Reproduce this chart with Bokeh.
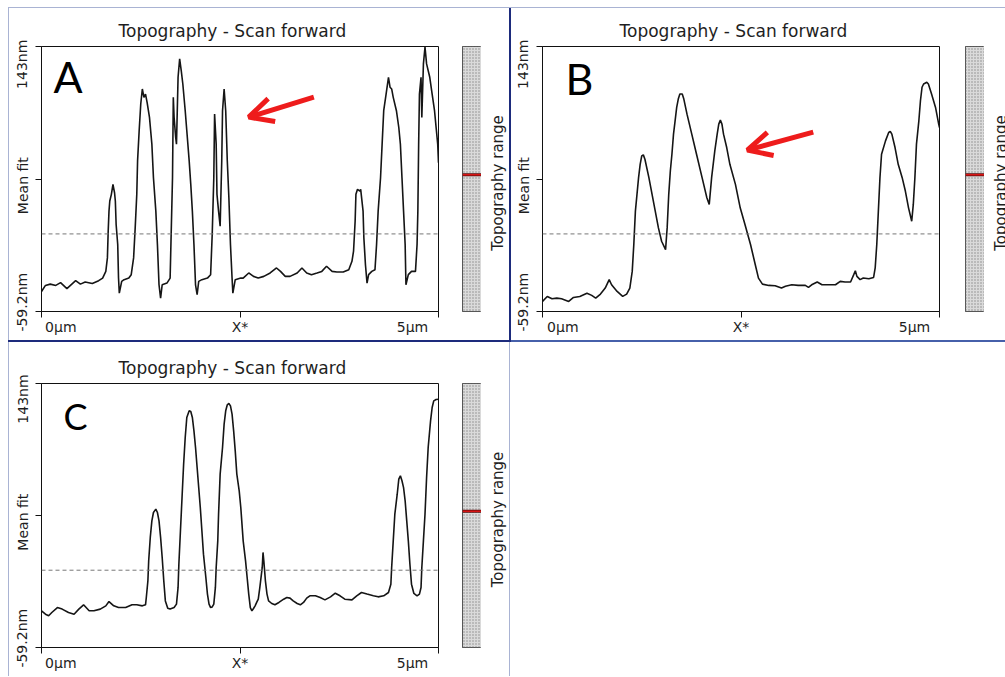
from math import pi
from bokeh.plotting import figure
from bokeh.models import Range1d, LinearAxis, FixedTicker, Label, Span, Arrow, OpenHead, Spacer
from bokeh.layouts import row, column
from bokeh.embed import file_html
from bokeh.resources import INLINE

# ---------------- data ----------------
Y_MIN, Y_MAX = -59.2, 143
X_MIN, X_MAX = 0, 5
Y_TICKS = [-59.2, 41.9, 143]
X_TICKS = [0, 2.5, 5]
X_TICK_LABELS = ["0µm", "X*", "5µm"]
Y_TICK_LABELS = ["-59.2nm", "Mean fit", "143nm"]
TITLE = "Topography - Scan forward"
RANGE_LABEL = "Topography range"
MEAN_MARK = 45.2
ZERO_LEVEL = 0.0

a_x = [0.00, 0.05, 0.11, 0.18, 0.24, 0.32, 0.43, 0.49, 0.55, 0.64,
       0.72, 0.77, 0.81, 0.83, 0.84, 0.85, 0.86, 0.88, 0.90, 0.92,
       0.93, 0.94, 0.96, 0.97, 0.98, 1.01, 1.04, 1.10, 1.13, 1.16,
       1.18, 1.20, 1.21, 1.23, 1.25, 1.27, 1.29, 1.31, 1.33, 1.36,
       1.39, 1.41, 1.44, 1.46, 1.48, 1.50, 1.52, 1.58, 1.62, 1.63,
       1.65, 1.66, 1.67, 1.69, 1.70, 1.71, 1.72, 1.74, 1.76, 1.78,
       1.81, 1.83, 1.86, 1.88, 1.90, 1.92, 1.94, 1.96, 1.98, 2.02,
       2.09, 2.13, 2.15, 2.17, 2.18, 2.20, 2.21, 2.23, 2.25, 2.27,
       2.28, 2.30, 2.32, 2.34, 2.36, 2.38, 2.40, 2.41, 2.44, 2.51,
       2.54, 2.61, 2.67, 2.73, 2.80, 2.88, 2.96, 3.01, 3.07, 3.13,
       3.22, 3.28, 3.34, 3.40, 3.47, 3.53, 3.59, 3.66, 3.72, 3.80,
       3.87, 3.91, 3.93, 3.95, 3.96, 3.98, 4.01, 4.02, 4.05, 4.06,
       4.08, 4.10, 4.12, 4.16, 4.20, 4.22, 4.24, 4.27, 4.29, 4.31,
       4.34, 4.37, 4.39, 4.41, 4.43, 4.47, 4.50, 4.52, 4.54, 4.56,
       4.58, 4.59, 4.62, 4.66, 4.71, 4.73, 4.74, 4.75, 4.76, 4.78,
       4.79, 4.81, 4.83, 4.85, 4.89, 4.92, 4.95, 4.97, 4.99, 5.00]
a_y = [-43.9, -39.3, -38.3, -39.3, -37.2, -41.8, -35.7, -38.3, -36.7, -37.8,
       -35.7, -33.7, -28.6, -18.3, 2.1, 17.4, 25.1, 30.2, 37.8, 31.4,
       25.1, 7.2, -8.1, -33.7, -45.2, -36.2, -34.9, -33.7, -31.1, -18.3,
       4.6, 30.2, 55.7, 78.7, 99.1, 110.6, 104.2, 106.7, 100.4, 88.9,
       68.5, 42.9, 17.4, -8.1, -38.8, -49.0, -38.8, -37.5, -33.7, -8.1,
       42.9, 104.2, 88.9, 73.6, 68.5, 94.0, 119.5, 133.6, 124.6, 114.4,
       94.0, 78.7, 55.7, 37.8, 17.4, -8.1, -38.8, -46.4, -36.2, -34.9,
       -33.7, -31.1, -0.5, 42.9, 91.4, 68.5, 30.2, 17.4, 5.9, 55.7,
       94.0, 110.6, 94.0, 55.7, 27.6, -8.1, -33.7, -45.2, -34.9, -33.7,
       -33.7, -29.8, -32.4, -33.7, -32.4, -29.8, -26.0, -28.6, -32.4, -32.4,
       -29.8, -26.0, -29.8, -31.1, -29.8, -28.6, -24.7, -28.6, -29.1, -29.1,
       -27.3, -20.9, -13.2, 9.7, 30.2, 34.0, 32.7, 34.0, 17.4, -3.0,
       -23.5, -37.5, -31.1, -28.6, -27.3, -8.1, 17.4, 42.9, 68.5, 94.0,
       106.7, 119.5, 111.9, 110.6, 104.2, 94.0, 81.2, 68.5, 42.9, 17.4,
       -8.1, -38.8, -31.1, -28.6, -28.6, -8.1, 17.4, 68.5, 106.7, 119.5,
       88.9, 129.7, 142.5, 129.7, 119.5, 106.7, 94.0, 81.2, 68.5, 54.4]

b_x = [0.00, 0.06, 0.12, 0.18, 0.24, 0.33, 0.39, 0.47, 0.56, 0.62,
       0.67, 0.73, 0.79, 0.84, 0.87, 0.94, 1.01, 1.06, 1.10, 1.13,
       1.15, 1.17, 1.19, 1.21, 1.23, 1.25, 1.27, 1.29, 1.34, 1.38,
       1.42, 1.46, 1.50, 1.55, 1.57, 1.59, 1.61, 1.63, 1.65, 1.67,
       1.69, 1.71, 1.73, 1.76, 1.78, 1.82, 1.88, 1.94, 2.01, 2.07,
       2.10, 2.13, 2.17, 2.20, 2.22, 2.24, 2.26, 2.28, 2.32, 2.36,
       2.43, 2.49, 2.55, 2.62, 2.68, 2.72, 2.77, 2.85, 2.93, 3.01,
       3.06, 3.14, 3.22, 3.31, 3.35, 3.39, 3.46, 3.52, 3.60, 3.69,
       3.75, 3.81, 3.88, 3.92, 3.94, 3.96, 4.00, 4.04, 4.11, 4.17,
       4.19, 4.21, 4.23, 4.25, 4.27, 4.32, 4.36, 4.38, 4.40, 4.44,
       4.48, 4.53, 4.57, 4.61, 4.65, 4.67, 4.69, 4.71, 4.74, 4.76,
       4.78, 4.80, 4.84, 4.86, 4.90, 4.95, 4.99, 5.00]
b_y = [-51.5, -47.7, -49.5, -49.0, -49.5, -51.5, -48.5, -47.7, -45.2, -46.9,
       -49.0, -45.9, -41.3, -34.9, -38.8, -43.9, -47.7, -45.9, -41.3, -28.6,
       -8.1, 17.4, 30.2, 42.9, 53.1, 59.5, 60.3, 57.0, 42.9, 30.2,
       17.4, 4.6, -5.6, -12.0, 4.6, 30.2, 48.0, 60.8, 76.1, 86.3,
       96.5, 102.9, 106.7, 106.7, 102.9, 91.4, 76.1, 60.8, 42.9, 27.6,
       22.5, 42.9, 63.3, 76.1, 83.8, 86.8, 83.8, 76.1, 65.9, 53.1,
       37.8, 19.9, 7.2, -8.1, -23.5, -33.7, -38.3, -39.3, -39.5, -41.3,
       -40.0, -38.8, -39.3, -39.3, -40.8, -38.8, -36.7, -38.8, -38.8, -38.8,
       -36.2, -36.7, -36.7, -31.1, -28.1, -32.4, -34.9, -33.7, -34.2, -33.2,
       -26.0, -8.1, 17.4, 42.9, 60.8, 71.0, 77.4, 78.2, 76.1, 65.9,
       53.1, 42.9, 32.7, 19.9, 9.7, 22.5, 42.9, 68.5, 86.3, 101.6,
       111.9, 114.4, 115.7, 114.4, 106.7, 96.5, 83.8, 81.2]

c_x = [0.00, 0.05, 0.09, 0.13, 0.20, 0.26, 0.34, 0.41, 0.47, 0.53,
       0.60, 0.66, 0.74, 0.81, 0.85, 0.91, 0.97, 1.06, 1.14, 1.20,
       1.27, 1.31, 1.32, 1.34, 1.35, 1.37, 1.39, 1.41, 1.44, 1.46,
       1.48, 1.50, 1.52, 1.54, 1.56, 1.59, 1.62, 1.67, 1.70, 1.72,
       1.73, 1.75, 1.77, 1.79, 1.81, 1.83, 1.86, 1.88, 1.90, 1.92,
       1.94, 1.96, 1.98, 2.00, 2.02, 2.04, 2.07, 2.09, 2.11, 2.13,
       2.15, 2.17, 2.19, 2.20, 2.22, 2.23, 2.25, 2.28, 2.30, 2.32,
       2.34, 2.36, 2.38, 2.40, 2.42, 2.44, 2.46, 2.49, 2.51, 2.54,
       2.57, 2.59, 2.61, 2.63, 2.65, 2.67, 2.69, 2.71, 2.73, 2.75,
       2.78, 2.79, 2.80, 2.82, 2.84, 2.86, 2.90, 2.94, 2.99, 3.05,
       3.09, 3.13, 3.17, 3.22, 3.26, 3.30, 3.34, 3.38, 3.45, 3.51,
       3.57, 3.64, 3.70, 3.76, 3.82, 3.91, 3.97, 4.03, 4.10, 4.18,
       4.24, 4.31, 4.37, 4.40, 4.41, 4.43, 4.45, 4.48, 4.50, 4.52,
       4.54, 4.56, 4.58, 4.60, 4.62, 4.64, 4.66, 4.69, 4.73, 4.76,
       4.78, 4.79, 4.81, 4.83, 4.85, 4.87, 4.90, 4.92, 4.94, 4.97,
       5.00]
c_y = [-31.1, -33.7, -34.9, -32.4, -28.6, -29.8, -32.4, -33.7, -29.8, -26.5,
       -31.1, -31.1, -29.8, -27.3, -24.0, -27.3, -28.6, -28.6, -26.5, -26.5,
       -27.3, -26.5, -20.9, -8.1, 7.2, 25.1, 37.8, 44.2, 46.8, 44.2,
       37.8, 25.1, 9.7, -8.1, -23.5, -29.1, -29.8, -28.6, -26.0, -13.2,
       4.6, 30.2, 55.7, 81.2, 101.6, 117.0, 122.1, 121.6, 117.0, 106.7,
       94.0, 78.7, 63.3, 48.0, 30.2, 12.3, -5.6, -18.3, -26.0, -28.6,
       -28.1, -26.0, -13.2, 2.1, 22.5, 42.9, 73.6, 94.0, 111.9, 122.1,
       126.7, 127.7, 125.9, 119.5, 106.7, 91.4, 73.6, 60.8, 48.0, 22.5,
       7.2, -5.6, -18.3, -28.6, -31.1, -29.3, -27.3, -24.7, -22.2, -13.2,
       2.1, 13.6, 7.2, -8.1, -18.3, -23.5, -25.5, -26.5, -24.7, -22.2,
       -20.9, -21.4, -23.5, -25.5, -26.5, -24.7, -21.4, -19.6, -19.6, -20.9,
       -22.7, -20.4, -17.6, -19.6, -22.2, -22.7, -19.6, -17.1, -18.3, -19.6,
       -20.4, -19.6, -17.1, -10.7, 2.1, 22.5, 42.9, 58.2, 69.7, 72.3,
       68.5, 63.3, 53.1, 37.8, 22.5, 4.6, -10.7, -17.8, -19.6, -18.3,
       -13.2, 2.1, 22.5, 42.9, 71.0, 94.0, 114.4, 124.6, 129.7, 130.7,
       131.0]

# ---------------- styling ----------------
FONT = "DejaVu Sans"
TXT = "#1e1e1e"
RED = "#ee1c1c"
LIGHT = "#a9b3d3"
NAVY = "#1d2b7c"
MIDBLUE = "#4660aa"
NB = "\u00a0"


def axis_common():
    return dict(major_tick_out=6, major_tick_in=0, minor_tick_out=0, minor_tick_in=0,
                axis_line_color="#111111", major_tick_line_color="#111111",
                major_label_text_font=FONT, major_label_text_font_size="14px",
                major_label_text_color=TXT)


def main_fig(xs, ys, letter, ldx, ldy, lsize, width, height, top, bottom, left, right, arrow=None):
    p = figure(width=width, height=height, title=TITLE,
               x_range=Range1d(X_MIN, X_MAX), y_range=Range1d(Y_MIN, Y_MAX),
               x_axis_location=None, y_axis_location=None,
               output_backend="svg", toolbar_location=None,
               min_border_left=left, min_border_right=right,
               min_border_top=top, min_border_bottom=bottom)
    p.grid.visible = False
    p.outline_line_color = "#111111"
    p.outline_line_alpha = 1.0
    p.outline_line_width = 1
    p.background_fill_color = "white"
    p.border_fill_color = "white"

    p.title.align = "left"
    p.title.offset = 77
    p.title.standoff = 11
    p.title.text_font = FONT
    p.title.text_font_size = "17px"
    p.title.text_font_style = "normal"
    p.title.text_color = TXT

    y_over = {Y_TICKS[0]: NB * 2 + Y_TICK_LABELS[0],
              Y_TICKS[1]: Y_TICK_LABELS[1] + NB * 3,
              Y_TICKS[2]: Y_TICK_LABELS[2] + NB * 7}
    x_over = {X_TICKS[0]: NB * 8 + X_TICK_LABELS[0],
              X_TICKS[1]: X_TICK_LABELS[1],
              X_TICKS[2]: X_TICK_LABELS[2] + NB * 5}
    yax = LinearAxis(ticker=FixedTicker(ticks=Y_TICKS), major_label_overrides=y_over,
                     major_label_orientation="vertical", major_label_standoff=5, **axis_common())
    xax = LinearAxis(ticker=FixedTicker(ticks=X_TICKS), major_label_overrides=x_over,
                     major_label_standoff=1, **axis_common())
    p.add_layout(yax, "left")
    p.add_layout(xax, "below")

    p.add_layout(Span(location=ZERO_LEVEL, dimension="width", line_color="#777777",
                      line_dash="4 3", line_width=1))
    p.line(xs, ys, line_color="#151515", line_width=1.6)

    p.add_layout(Label(x=X_MIN, y=Y_MAX, x_offset=ldx, y_offset=ldy, text=letter,
                       text_font="Lato", text_font_size=lsize, text_color="#000000",
                       text_align="left", text_baseline="middle"))
    if arrow is not None:
        x0, y0, x1, y1 = arrow
        p.add_layout(Arrow(end=OpenHead(size=24, line_color=RED, line_width=5),
                           x_start=x0, y_start=y0, x_end=x1, y_end=y1,
                           line_color=RED, line_width=5))
    return p


def bar_fig(width, height, top, bottom, left):
    b = figure(width=width, height=height,
               x_range=Range1d(0, 1), y_range=Range1d(Y_MIN, Y_MAX),
               x_axis_location=None, y_axis_location=None,
               output_backend="svg", toolbar_location=None,
               min_border_left=left, min_border_right=0,
               min_border_top=top, min_border_bottom=bottom)
    b.grid.visible = False
    b.outline_line_color = "#2a2a2a"
    b.outline_line_alpha = 1.0
    b.border_fill_color = "white"
    b.quad(left=0, right=1, bottom=Y_MIN, top=Y_MAX, fill_color="#dadada",
           hatch_pattern="dot", hatch_color="#8a8a8a", hatch_scale=3, hatch_weight=1,
           line_color=None)
    b.add_layout(Span(location=MEAN_MARK, dimension="width", line_color="#5a0a0a", line_width=3))
    b.add_layout(Span(location=MEAN_MARK, dimension="width", line_color="#d81414", line_width=1.5))
    return b


def strip_fig(width, height, top, bottom):
    s = figure(width=width, height=height,
               x_range=Range1d(0, 1), y_range=Range1d(Y_MIN, Y_MAX),
               x_axis_location=None, y_axis_location=None,
               output_backend="svg", toolbar_location=None,
               min_border_left=0, min_border_right=0,
               min_border_top=top, min_border_bottom=bottom)
    s.grid.visible = False
    s.outline_line_color = None
    s.border_fill_color = "white"
    s.add_layout(Label(x=0, y=Y_TICKS[1], x_offset=16, y_offset=-4, text=RANGE_LABEL,
                       angle=pi / 2, text_align="center", text_baseline="middle",
                       text_font=FONT, text_font_size="15px", text_color=TXT))
    return s


def box(w, h, color):
    return Spacer(width=w, height=h, styles={"background-color": color})


H1, H2 = 332, 334
T1, B1 = 38, 29
T2, B2 = 41, 29

pA = main_fig(a_x, a_y, "A", 12, -30, "43px", 441, H1, T1, B1, 32, 12,
              arrow=(3.43, 104.4, 2.61, 89.1))
bA = bar_fig(31, H1, T1, B1, 12)
sA = strip_fig(28, H1, T1, B1)
pB = main_fig(b_x, b_y, "B", 23, -32, "43px", 441, H1, T1, B1, 31, 13,
              arrow=(3.41, 77.6, 2.58, 63.9))
bB = bar_fig(32, H1, T1, B1, 13)
sB = strip_fig(21, H1, T1, B1)
pC = main_fig(c_x, c_y, "C", 22, -32, "36px", 441, H2, T2, B2, 32, 12)
bC = bar_fig(31, H2, T2, B2, 12)
sC = strip_fig(28, H2, T2, B2)

top_gap = Spacer(width=1005, height=7)
top_line = row(Spacer(width=8, height=1), box(997, 1, LIGHT))
row1 = row(Spacer(width=8, height=H1), box(1, H1, LIGHT), pA, bA, sA, box(2, H1, NAVY), pB, bB, sB)
divider = row(Spacer(width=8, height=2), box(503, 2, NAVY), box(494, 2, MIDBLUE))
row2 = row(Spacer(width=8, height=H2), box(1, H2, LIGHT), pC, bC, sC, box(1, H2, LIGHT))

layout = column(top_gap, top_line, row1, divider, row2)

open("out.html", "w").write(file_html(layout, INLINE, title="Topography"))
